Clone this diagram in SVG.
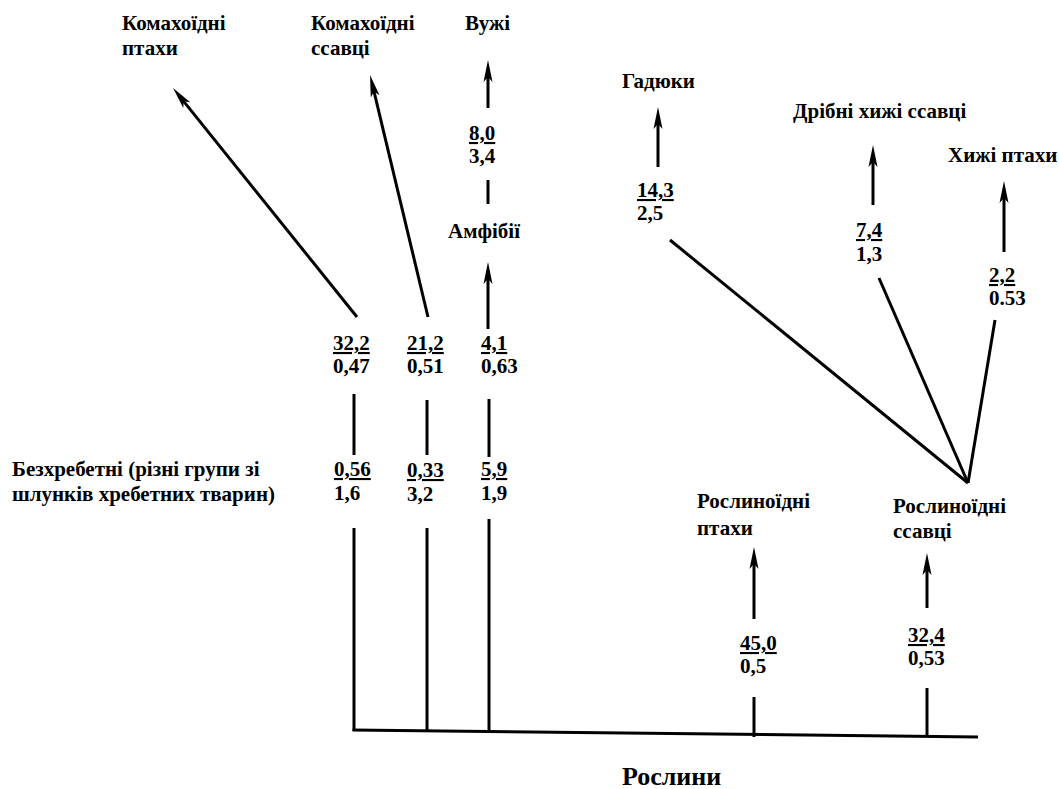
<svg xmlns="http://www.w3.org/2000/svg" width="1059" height="789" viewBox="0 0 1059 789">
<style>
.t{font-family:'Liberation Serif',serif;font-weight:700;font-size:21px;fill:#000}
.u{text-decoration:underline}
.big{font-size:26px}
.c line{stroke:#000;stroke-width:3;fill:none}
</style>
<defs>
<marker id="ah" markerUnits="userSpaceOnUse" markerWidth="24" markerHeight="12" refX="11" refY="6" orient="auto">
<path d="M0,1.5 L22,6 L0,10.5 L5,6 z" fill="#000"/>
</marker>
</defs>
<rect width="1059" height="789" fill="#fff"/>
<g id="connectors" class="c">
<line x1="357" y1="317" x2="179.9" y2="96.6" marker-end="url(#ah)"/>
<line x1="428" y1="317" x2="372.6" y2="85.7" marker-end="url(#ah)"/>
<line x1="488" y1="108" x2="488" y2="71" marker-end="url(#ah)"/>
<line x1="488" y1="180" x2="488" y2="204"/>
<line x1="488" y1="329" x2="488" y2="273" marker-end="url(#ah)"/>
<line x1="658" y1="167" x2="658" y2="118" marker-end="url(#ah)"/>
<line x1="873" y1="205" x2="873" y2="156" marker-end="url(#ah)"/>
<line x1="1004" y1="252" x2="1004" y2="192" marker-end="url(#ah)"/>
<line x1="754" y1="619" x2="754" y2="558" marker-end="url(#ah)"/>
<line x1="927" y1="608" x2="927" y2="564" marker-end="url(#ah)"/>
<line x1="354" y1="394" x2="354" y2="455"/>
<line x1="427" y1="400" x2="427" y2="455"/>
<line x1="489" y1="399" x2="489" y2="457"/>
<line x1="354" y1="528" x2="354" y2="731"/>
<line x1="427" y1="528" x2="427" y2="731"/>
<line x1="489" y1="519" x2="489" y2="732"/>
<line x1="352.5" y1="730" x2="978" y2="737"/>
<line x1="754" y1="697" x2="754" y2="737"/>
<line x1="927" y1="688" x2="927" y2="736"/>
<line x1="670" y1="240" x2="968" y2="483"/>
<line x1="879" y1="278" x2="968" y2="483"/>
<line x1="995" y1="320" x2="968" y2="483"/>
</g>
<g class="t" font-family="Liberation Serif, serif" font-weight="700" font-size="21">
<g id="node-insect-birds"><text x="122" y="30">Комахоїдні</text><text x="122" y="55">птахи</text></g>
<g id="node-insect-mammals"><text x="311" y="30">Комахоїдні</text><text x="311" y="55">ссавці</text></g>
<g id="node-grass-snakes"><text x="465" y="30">Вужі</text></g>
<g id="node-amphibians"><text x="448" y="238">Амфібії</text></g>
<g id="node-vipers"><text x="622" y="88">Гадюки</text></g>
<g id="node-small-predators"><text x="793" y="118">Дрібні хижі ссавці</text></g>
<g id="node-raptors"><text x="948" y="162">Хижі птахи</text></g>
<g id="node-invertebrates"><text x="12" y="476">Безхребетні (різні групи зі</text><text x="12" y="501">шлунків хребетних тварин)</text></g>
<g id="node-herb-birds"><text x="697" y="508">Рослиноїдні</text><text x="697" y="535">птахи</text></g>
<g id="node-herb-mammals"><text x="893" y="513">Рослиноїдні</text><text x="893" y="538">ссавці</text></g>
<g id="node-plants"><text class="big" x="622" y="785">Рослини</text></g>
<g id="values">
<text class="u" x="333" y="350">32,2</text><text x="333" y="373">0,47</text>
<text class="u" x="407" y="350">21,2</text><text x="407" y="373">0,51</text>
<text class="u" x="481" y="350">4,1</text><text x="481" y="373">0,63</text>
<text class="u" x="334" y="476">0,56</text><text x="334" y="500">1,6</text>
<text class="u" x="407" y="477">0,33</text><text x="407" y="501">3,2</text>
<text class="u" x="481" y="476">5,9</text><text x="481" y="500">1,9</text>
<text class="u" x="469" y="140">8,0</text><text x="469" y="163">3,4</text>
<text class="u" x="637" y="197">14,3</text><text x="637" y="220">2,5</text>
<text class="u" x="856" y="237">7,4</text><text x="856" y="261">1,3</text>
<text class="u" x="989" y="282">2,2</text><text x="989" y="305">0.53</text>
<text class="u" x="740" y="650">45,0</text><text x="740" y="673">0,5</text>
<text class="u" x="908" y="642">32,4</text><text x="908" y="665">0,53</text>
</g>
</g>
</svg>
